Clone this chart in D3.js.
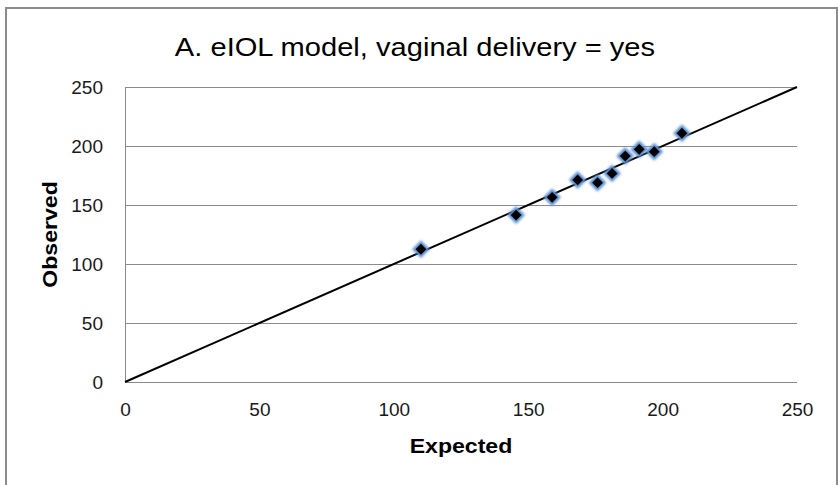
<!DOCTYPE html>
<html>
<head>
<meta charset="utf-8">
<script src="https://cdn.jsdelivr.net/npm/d3@7"></script>
<style>
html,body{margin:0;padding:0;background:#fff;}
svg{display:block;font-family:"Liberation Sans",Arial,sans-serif;}
</style>
</head>
<body>
<svg id="chart" width="838" height="485"></svg>
<script>
const title = "A. eIOL model, vaginal delivery = yes";
const xLabel = "Expected";
const yLabel = "Observed";
const tickValues = [0, 50, 100, 150, 200, 250];
const expected = [110.1, 145.5, 158.9, 168.4, 175.8, 181.2, 186.1, 191.3, 196.9, 207.2];
const observed = [112.5, 141.5, 156.5, 171.2, 168.9, 176.8, 191.5, 197.2, 195.2, 210.8];
const refLine = [[0, 0], [250, 250]];

const svg = d3.select("#chart");
const plot = {left:125, right:797, top:87, bottom:382};
const FONT = "'Liberation Sans',Arial,sans-serif";

const defs = svg.append("defs");
const f = defs.append("filter").attr("id","glow").attr("x","-50%").attr("y","-50%").attr("width","200%").attr("height","200%");
f.append("feGaussianBlur").attr("stdDeviation",0.9);

// outer border
svg.append("rect").attr("x",6).attr("y",8).attr("width",831).attr("height",490)
  .attr("fill","#fff").attr("stroke","#8c8c8c").attr("stroke-width",2);

const x = d3.scaleLinear().domain([0,250]).range([plot.left, plot.right]);
const y = d3.scaleLinear().domain([0,250]).range([plot.bottom, plot.top]);

// gridlines
svg.append("g").selectAll("line").data(tickValues).join("line")
  .attr("x1",plot.left).attr("x2",plot.right)
  .attr("y1",d=>y(d)+0.5).attr("y2",d=>y(d)+0.5)
  .attr("stroke","#8a8a8a").attr("stroke-width",1);

// y axis
const yAxis = svg.append("g").attr("transform",`translate(${plot.left},0)`)
  .call(d3.axisLeft(y).tickValues(tickValues).tickSize(0).tickPadding(22));
yAxis.select(".domain").remove();
yAxis.append("line").attr("x1",0.5).attr("x2",0.5).attr("y1",plot.top).attr("y2",plot.bottom)
  .attr("stroke","#8a8a8a").attr("stroke-width",1);
yAxis.selectAll("text").style("font-size","19px").style("fill","#1a1a1a")
  .style("font-family",FONT);

// x axis
const xAxis = svg.append("g").attr("transform",`translate(0,${plot.bottom})`)
  .call(d3.axisBottom(x).tickValues(tickValues).tickSize(0).tickPadding(21));
xAxis.select(".domain").remove();
xAxis.selectAll("text").style("font-size","19px").style("fill","#1a1a1a")
  .style("font-family",FONT);

// reference line
svg.append("path").datum(refLine)
  .attr("d", d3.line().x(d=>x(d[0])).y(d=>y(d[1])))
  .attr("stroke","#000").attr("stroke-width",2).attr("fill","none");

// markers
const pts = expected.map((e,i)=>({e, o:observed[i]}));
const g = svg.append("g");
g.selectAll("path.halo").data(pts).join("path").attr("class","halo")
  .attr("d", d3.symbol().type(d3.symbolSquare).size(90))
  .attr("transform", d=>`translate(${x(d.e)},${y(d.o)}) rotate(45)`)
  .attr("fill","#3f74b8").attr("stroke","#5b8fd0").attr("stroke-width",3)
  .attr("filter","url(#glow)");
g.selectAll("path.core").data(pts).join("path").attr("class","core")
  .attr("d", d3.symbol().type(d3.symbolSquare).size(58))
  .attr("transform", d=>`translate(${x(d.e)},${y(d.o)}) rotate(45)`)
  .attr("fill","#000");

// titles
svg.append("text").attr("x",415).attr("y",56).attr("text-anchor","middle")
  .style("font-size","26px").style("font-family",FONT).attr("fill","#000").text(title)
  .attr("transform","translate(415,0) scale(1.12,1) translate(-415,0)");
svg.append("text").attr("x",(plot.left+plot.right)/2).attr("y",453).attr("text-anchor","middle")
  .style("font-size","21px").style("font-weight","bold").style("font-family",FONT).attr("fill","#000").text(xLabel)
  .attr("transform",`translate(${(plot.left+plot.right)/2},0) scale(1.1,1) translate(${-(plot.left+plot.right)/2},0)`);
svg.append("text").attr("transform",`translate(57,${(plot.top+plot.bottom)/2}) rotate(-90) scale(1.1,1)`)
  .attr("text-anchor","middle").style("font-size","21px").style("font-weight","bold").style("font-family",FONT)
  .attr("fill","#000").text(yLabel);
</script>
</body>
</html>
